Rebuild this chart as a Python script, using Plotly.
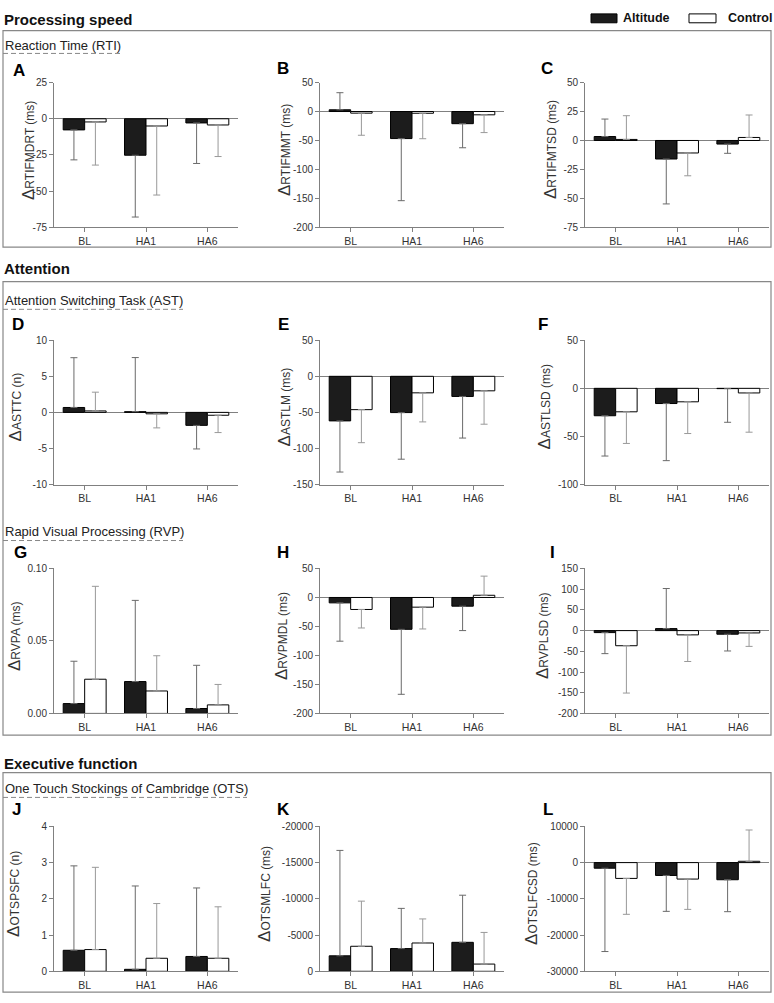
import plotly.graph_objects as go

W, H = 774, 1003
categories = ["BL", "HA1", "HA6"]

# ---- data: means and SD (error bars drawn away from zero) ----
A_alt = [-7.7, -25.2, -2.9];   A_alt_sd = [20.7, 42.7, 28.0]
A_ctl = [-2.2, -5.0, -4.3];    A_ctl_sd = [29.8, 47.7, 21.8]
A_ticks = [-75, -50, -25, 0, 25]

B_alt = [3.0, -46.7, -21.0];   B_alt_sd = [29.5, 107.3, 41.6]
B_ctl = [-2.8, -3.0, -5.7];    B_ctl_sd = [38.2, 44.0, 30.7]
B_ticks = [-200, -150, -100, -50, 0, 50]

C_alt = [3.4, -16.0, -3.1];    C_alt_sd = [15.1, 38.8, 8.0]
C_ctl = [0.9, -10.8, 2.6];     C_ctl_sd = [20.5, 19.7, 19.4]
C_ticks = [-75, -50, -25, 0, 25, 50]

D_alt = [0.68, 0.1, -1.8];     D_alt_sd = [6.9, 7.5, 3.27]
D_ctl = [0.2, -0.2, -0.4];     D_ctl_sd = [2.6, 1.95, 2.4]
D_ticks = [-10, -5, 0, 5, 10]

E_alt = [-61.8, -50.3, -27.9]; E_alt_sd = [70.9, 64.6, 57.7]
E_ctl = [-46.2, -22.9, -20.1]; E_ctl_sd = [45.8, 40.3, 46.3]
E_ticks = [-150, -100, -50, 0, 50]

F_alt = [-28.5, -15.8, -0.3];  F_alt_sd = [41.9, 59.4, 35.0]
F_ctl = [-24.4, -14.0, -4.8];  F_ctl_sd = [32.9, 33.0, 40.8]
F_ticks = [-100, -50, 0, 50]

G_alt = [0.0068, 0.022, 0.0034]; G_alt_sd = [0.0292, 0.056, 0.0298]
G_ctl = [0.0236, 0.0155, 0.0059]; G_ctl_sd = [0.0641, 0.0243, 0.0141]
G_ticks = [0.0, 0.05, 0.10]

H_alt = [-9.3, -54.9, -15.0];  H_alt_sd = [66.1, 112.1, 42.1]
H_ctl = [-20.7, -16.7, 3.8];   H_ctl_sd = [31.9, 37.6, 33.0]
H_ticks = [-200, -150, -100, -50, 0, 50]

I_alt = [-4.8, 4.8, -8.7];     I_alt_sd = [50.8, 96.8, 40.5]
I_ctl = [-36.5, -10.3, -5.6];  I_ctl_sd = [114.3, 64.3, 32.5]
I_ticks = [-200, -150, -100, -50, 0, 50, 100, 150]

J_alt = [0.58, 0.055, 0.41];   J_alt_sd = [2.33, 2.30, 1.89]
J_ctl = [0.60, 0.36, 0.36];    J_ctl_sd = [2.27, 1.51, 1.42]
J_ticks = [0, 1, 2, 3, 4]

K_alt = [-2136, -3136, -4000]; K_alt_sd = [14546, 5546, 6500]
K_ctl = [-3454, -3909, -1000]; K_ctl_sd = [6228, 3318, 4364]
K_ticks = [0, -5000, -10000, -15000, -20000]

L_alt = [-1545, -3545, -4727]; L_alt_sd = [23000, 9909, 8818]
L_ctl = [-4364, -4545, 364];   L_ctl_sd = [9909, 8364, 8636]
L_ticks = [-30000, -20000, -10000, 0, 10000]

panels = [
    ("A", "RTIFMDRT (ms)", A_alt, A_alt_sd, A_ctl, A_ctl_sd, A_ticks, "{:d}", False),
    ("B", "RTIFMMT (ms)", B_alt, B_alt_sd, B_ctl, B_ctl_sd, B_ticks, "{:d}", False),
    ("C", "RTIFMTSD (ms)", C_alt, C_alt_sd, C_ctl, C_ctl_sd, C_ticks, "{:d}", False),
    ("D", "ASTTC (n)", D_alt, D_alt_sd, D_ctl, D_ctl_sd, D_ticks, "{:d}", False),
    ("E", "ASTLM (ms)", E_alt, E_alt_sd, E_ctl, E_ctl_sd, E_ticks, "{:d}", False),
    ("F", "ASTLSD (ms)", F_alt, F_alt_sd, F_ctl, F_ctl_sd, F_ticks, "{:d}", False),
    ("G", "RVPA (ms)", G_alt, G_alt_sd, G_ctl, G_ctl_sd, G_ticks, "{:.2f}", False),
    ("H", "RVPMDL (ms)", H_alt, H_alt_sd, H_ctl, H_ctl_sd, H_ticks, "{:d}", False),
    ("I", "RVPLSD (ms)", I_alt, I_alt_sd, I_ctl, I_ctl_sd, I_ticks, "{:d}", False),
    ("J", "OTSPSFC (n)", J_alt, J_alt_sd, J_ctl, J_ctl_sd, J_ticks, "{:d}", False),
    ("K", "OTSMLFC (ms)", K_alt, K_alt_sd, K_ctl, K_ctl_sd, K_ticks, "{:d}", True),
    ("L", "OTSLFCSD (ms)", L_alt, L_alt_sd, L_ctl, L_ctl_sd, L_ticks, "{:d}", False),
]

# ---- layout geometry (pixels) ----
rows_top = [77.5, 338.3, 569.3, 830.3]
rows_bot = [224.0, 484.3, 716.0, 977.0]
cols_left = [54, 320, 585]
plot_w = 184
title_x = [28, 284, 550, 15, 284, 544, 14, 281, 542, 14, 265, 532]
letter_x = [19, 283, 547, 18, 283, 543, 20, 283, 552, 16, 283, 548]
letter_y = [65, 63, 63, 322, 322, 322, 553, 553, 553, 813, 813, 813]

FONT = "Liberation Sans, Arial, sans-serif"
AXC = "#808080"
TXT = "#333333"

def px(x):
    return x / W

def py(y):
    return 1 - y / H

def err(means, sds, positive):
    return [s if ((m >= 0) == positive) else 0 for m, s in zip(means, sds)]

fig = go.Figure()
annotations = []
layout_axes = {}

for i, (letter, title, alt, alt_sd, ctl, ctl_sd, ticks, fmt, rev) in enumerate(panels):
    n = i + 1
    r, c = divmod(i, 3)
    xs = "x" if n == 1 else f"x{n}"
    ys = "y" if n == 1 else f"y{n}"
    for vals, sds, fill, ecol in ((alt, alt_sd, "#1c1c1c", "#6a6a6a"),
                                  (ctl, ctl_sd, "#ffffff", "#999999")):
        fig.add_trace(go.Bar(
            x=categories, y=vals, xaxis=xs, yaxis=ys, showlegend=False,
            marker=dict(color=fill, line=dict(color="#000000", width=1)),
            error_y=dict(type="data", symmetric=False,
                         array=err(vals, sds, True),
                         arrayminus=err(vals, sds, False),
                         color=ecol, thickness=1, width=3.5),
            hoverinfo="skip",
        ))
    x0 = cols_left[c]
    xname = "xaxis" if n == 1 else f"xaxis{n}"
    yname = "yaxis" if n == 1 else f"yaxis{n}"
    layout_axes[xname] = dict(
        domain=[px(x0), px(x0 + plot_w)], anchor=ys, type="category",
        range=[-0.5, 2.5], showline=True, linecolor=AXC, linewidth=1,
        ticks="outside", ticklen=4, tickcolor=AXC, showgrid=False, zeroline=False,
        tickfont=dict(family=FONT, size=10.5, color=TXT), fixedrange=True,
    )
    lo, hi = min(ticks), max(ticks)
    layout_axes[yname] = dict(
        domain=[py(rows_bot[r]), py(rows_top[r])], anchor=xs,
        range=[hi, lo] if rev else [lo, hi],
        tickvals=ticks, ticktext=[fmt.format(t) for t in ticks],
        showline=True, linecolor=AXC, linewidth=1, ticks="outside", ticklen=4,
        tickcolor=AXC, showgrid=False, zeroline=True, zerolinecolor=AXC,
        zerolinewidth=1, tickfont=dict(family=FONT, size=10, color=TXT),
        fixedrange=True,
    )
    annotations.append(dict(
        xref="paper", yref="paper", x=px(title_x[i]),
        y=py((rows_top[r] + rows_bot[r]) / 2 - 5), textangle=-90,
        text="<span style='font-size:17px'>Δ</span>" + title,
        showarrow=False, xanchor="center", yanchor="middle",
        font=dict(family=FONT, size=12, color=TXT)))
    annotations.append(dict(
        xref="paper", yref="paper", x=px(letter_x[i]), y=py(letter_y[i]),
        text="<b>" + letter + "</b>", showarrow=False, xanchor="center",
        yanchor="middle", font=dict(family=FONT, size=17, color="#000000")))

# section headers and sub-headers
sections = [("Processing speed", 14), ("Attention", 266), ("Executive function", 767)]
for txt, y in sections:
    annotations.append(dict(xref="paper", yref="paper", x=px(2), y=py(y),
                            text="<b>" + txt + "</b>", showarrow=False,
                            xanchor="left", yanchor="middle",
                            font=dict(family=FONT, size=15, color="#111111")))
subs = [("Reaction Time (RTI)", 40, 48, 121),
        ("Attention Switching Task (AST)", 298, 307, 183),
        ("Rapid Visual Processing (RVP)", 532, 541, 183),
        ("One Touch Stockings of Cambridge (OTS)", 792, 801, 247)]
shapes = []
for txt, y, ly, lx in subs:
    annotations.append(dict(xref="paper", yref="paper", x=px(3), y=py(y),
                            text=txt, showarrow=False, xanchor="left",
                            yanchor="middle",
                            font=dict(family=FONT, size=13, color="#222222")))
    shapes.append(dict(type="line", xref="paper", yref="paper",
                       x0=px(3), x1=px(lx), y0=py(ly), y1=py(ly),
                       line=dict(color="#888888", width=1, dash="5px,3px")))

boxes = [(25, 244), (279, 738), (776, 998)]
for t, b in boxes:
    shapes.append(dict(type="rect", xref="paper", yref="paper",
                       x0=px(3), x1=px(771), y0=py(b), y1=py(t),
                       line=dict(color="#888888", width=1.2)))

# legend
shapes.append(dict(type="rect", xref="paper", yref="paper", x0=px(591), x1=px(617),
                   y0=py(17), y1=py(8), fillcolor="#1c1c1c",
                   line=dict(color="#000000", width=1)))
shapes.append(dict(type="rect", xref="paper", yref="paper", x0=px(689), x1=px(716),
                   y0=py(17), y1=py(8), fillcolor="#ffffff",
                   line=dict(color="#000000", width=1)))
annotations.append(dict(xref="paper", yref="paper", x=px(621), y=py(12.5),
                        text="<b>Altitude</b>", showarrow=False, xanchor="left",
                        yanchor="middle", font=dict(family=FONT, size=12.5, color="#111111")))
annotations.append(dict(xref="paper", yref="paper", x=px(726), y=py(12.5),
                        text="<b>Control</b>", showarrow=False, xanchor="left",
                        yanchor="middle", font=dict(family=FONT, size=12.5, color="#111111")))

fig.update_layout(
    width=W, height=H, margin=dict(l=0, r=0, t=0, b=0),
    paper_bgcolor="white", plot_bgcolor="white",
    barmode="group", bargap=0.3, bargroupgap=0.0,
    showlegend=False, annotations=annotations, shapes=shapes,
    hovermode=False, **layout_axes,
)

fig.write_html("out.html", config={"displayModeBar": False, "staticPlot": True},
               post_script="document.body.style.margin='0';document.body.style.overflow='hidden';")
